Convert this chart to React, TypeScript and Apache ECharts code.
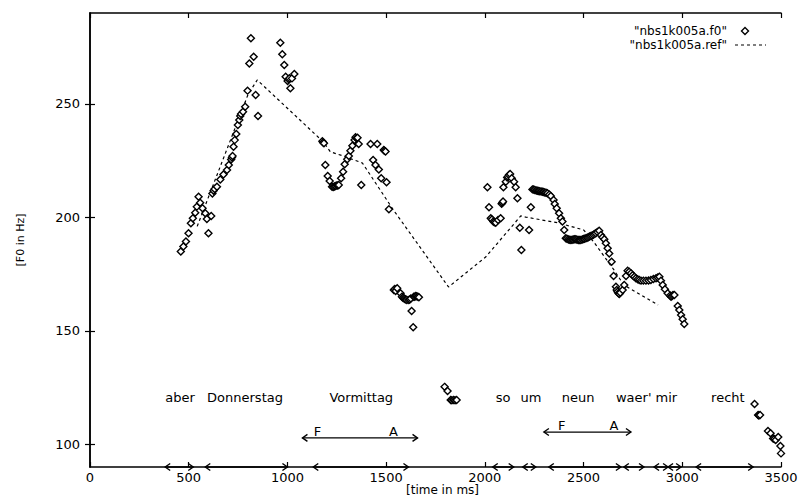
import React, { useEffect, useRef } from "react";
import * as echarts from "echarts";

const f0First: number[][] = [
  [460, 184.9], [473, 187.1], [486, 189.3], [499, 193.0], [511, 197.4], [521, 199.6], [533, 202.0],
  [541, 204.7], [550, 209.1], [558, 206.4], [570, 204.0], [584, 201.8], [592, 199.3], [600, 193.0],
  [614, 200.6], [620, 210.5], [626, 211.7], [631, 212.5], [643, 213.5], [660, 216.7], [676, 218.9],
  [694, 220.8], [703, 223.0], [715, 225.5], [719, 226.3], [722, 227.0], [727, 231.1], [733, 234.0],
  [741, 236.7], [749, 240.7], [756, 242.9], [761, 244.6], [765, 245.5], [775, 246.5], [786, 248.7],
  [798, 255.8], [807, 267.8], [815, 278.9], [829, 270.7], [839, 253.9], [851, 244.6], [964, 276.9],
  [974, 271.8], [984, 267.1], [991, 261.9], [1001, 260.0], [1006, 260.8], [1010, 261.3], [1015, 256.8],
  [1023, 261.2], [1035, 263.1],
];
const f0Second: number[][] = [
  [1177, 233.5], [1181, 233.0], [1185, 232.6], [1192, 223.0], [1204, 218.2], [1214, 216.0], [1226, 213.5],
  [1232, 213.3], [1238, 213.6], [1243, 213.8], [1250, 214.0], [1255, 214.0], [1260, 214.2], [1272, 217.2],
  [1282, 220.1], [1290, 223.4], [1303, 225.6], [1311, 227.0], [1319, 229.3], [1329, 231.5], [1340, 234.1],
  [1345, 235.3], [1350, 234.8], [1355, 235.0], [1361, 232.3], [1374, 214.2], [1421, 232.3], [1434, 225.2],
  [1446, 223.0], [1455, 232.3], [1463, 221.1], [1475, 217.2], [1488, 229.6], [1492, 229.3], [1497, 229.0],
  [1502, 215.4], [1514, 203.5], [1539, 168.0], [1544, 168.4], [1548, 167.5], [1556, 168.7], [1573, 166.5],
  [1580, 165.0], [1585, 164.6], [1590, 164.3], [1595, 164.0], [1600, 163.8], [1605, 163.6], [1615, 163.6],
  [1620, 163.8], [1625, 164.2], [1629, 158.7], [1637, 151.6], [1640, 165.0], [1645, 165.0], [1650, 165.3],
  [1655, 165.2], [1661, 165.0], [1666, 164.8], [1796, 125.3], [1811, 123.5], [1827, 119.5], [1833, 119.4],
  [1842, 119.5], [1849, 119.4], [1857, 119.5],
];
const f0Third: number[][] = [
  [2013, 213.2], [2021, 204.4], [2030, 199.6], [2036, 199.0], [2043, 198.1], [2048, 197.8], [2055, 197.6],
  [2067, 198.8], [2080, 199.6], [2085, 206.0], [2089, 206.4], [2092, 207.0], [2094, 213.2], [2106, 215.7],
  [2113, 217.5], [2117, 217.9], [2122, 218.6], [2128, 219.1], [2136, 217.2], [2148, 215.7], [2156, 213.2],
  [2165, 208.4], [2177, 195.4], [2185, 185.6], [2224, 194.4], [2233, 204.4], [2241, 212.3], [2247, 212.2],
  [2253, 212.0], [2260, 211.8], [2266, 211.7], [2272, 211.6], [2278, 211.5], [2285, 211.4], [2292, 211.3],
  [2298, 211.1], [2304, 210.9], [2310, 210.8], [2317, 210.6], [2326, 210.0], [2334, 209.4], [2348, 207.6],
  [2354, 205.9], [2364, 204.0], [2376, 201.8], [2385, 199.6], [2393, 198.1], [2402, 194.4], [2410, 190.8],
  [2416, 190.5], [2423, 190.2], [2430, 190.1], [2436, 190.0], [2442, 190.1], [2448, 190.2], [2455, 190.3],
  [2461, 190.3], [2467, 190.1], [2474, 190.0], [2480, 190.0], [2486, 190.0], [2493, 190.2], [2499, 190.4],
  [2505, 190.6], [2512, 190.8], [2518, 191.0], [2524, 191.2], [2530, 191.5], [2537, 191.8], [2543, 192.0],
  [2550, 192.3], [2556, 192.7], [2562, 193.0], [2570, 193.5], [2579, 194.1], [2588, 192.2], [2596, 191.2],
  [2605, 190.3], [2613, 188.6], [2622, 186.4], [2630, 184.1], [2642, 180.4], [2652, 174.1], [2664, 169.4],
  [2668, 168.0], [2672, 167.2], [2677, 166.5], [2681, 166.2], [2686, 166.8], [2698, 168.0], [2706, 170.2],
  [2715, 174.1], [2723, 176.5], [2731, 176.0], [2740, 175.3], [2748, 174.5], [2757, 173.8], [2765, 173.2],
  [2774, 172.7], [2782, 172.4], [2791, 172.1], [2803, 172.1], [2816, 172.1], [2829, 172.2], [2841, 172.4],
  [2854, 172.8], [2867, 173.1], [2876, 173.5], [2884, 173.8], [2892, 172.1], [2901, 170.2], [2912, 168.3],
  [2926, 166.5], [2938, 165.5], [2943, 165.0], [2948, 165.3], [2953, 165.8], [2960, 165.8], [2977, 160.9],
  [2985, 159.2], [2994, 157.0], [3002, 155.1], [3010, 153.0],
];
const f0Last: number[][] = [
  [3366, 117.8], [3384, 112.9], [3388, 112.7], [3394, 112.9], [3434, 105.9], [3447, 104.9], [3460, 102.6],
  [3466, 102.3], [3473, 101.9], [3486, 103.2], [3497, 99.3], [3500, 96.0],
];

// reference contour vertices
const refMs = [543, 800, 847, 1182, 1218, 1284, 1380, 1537, 1816, 2004, 2182, 2207, 2374, 2501, 2552, 2654, 2704, 2877];
const refHz = [196.0, 254.0, 260.5, 233.2, 228.8, 227.0, 223.9, 203.2, 169.3, 182.5, 200.6, 200.1, 197.5, 194.4, 189.1, 176.8, 170.2, 161.4];

// axis ticks
const xTicks = [0, 500, 1000, 1500, 2000, 2500, 3000, 3500];
const yTicks = [100, 150, 200, 250];

// words of the utterance
const words = ["aber", "Donnerstag", "Vormittag", "so", "um", "neun", "waer' mir", "recht"];
const wordMs = [381, 593, 1213, 2055, 2180, 2390, 2664, 3146];
const wordHz = [120.4, 120.4, 120.4, 120.4, 120.4, 120.4, 120.4, 120.4];

// segment intervals on the time axis
const segStart = [381, 584, 1131, 2040, 2192, 2324, 2704, 2857, 2928, 3070];
const segEnd = [523, 1000, 1613, 2146, 2258, 2689, 2806, 2928, 2994, 3359];

// F..A intervals
const faStart = [1076, 2299];
const faEnd = [1659, 2740];
const faHz = [102.8, 105.4];
const fMs = [1152, 2390];
const aMs = [1537, 2654];

// legend entries
const legendNames = ['"nbs1k005a.f0"', '"nbs1k005a.ref"'];

const FONT = '"DejaVu Sans", "Liberation Sans", sans-serif';

function arrowChildren(x1: number, x2: number, y: number, lw: number) {
  const w = 5;
  const h = 3.5;
  const st = { stroke: "#000", fill: "none", lineWidth: 1.4 };
  return [
    { type: "line", shape: { x1, y1: y, x2, y2: y }, style: { stroke: "#000", lineWidth: lw } },
    { type: "polyline", shape: { points: [[x1 + w, y - h], [x1, y], [x1 + w, y + h]] }, style: st },
    { type: "polyline", shape: { points: [[x2 - w, y - h], [x2, y], [x2 - w, y + h]] }, style: st },
  ];
}

export default function App() {
  const ref = useRef<HTMLDivElement>(null);

  useEffect(() => {
    document.body.style.margin = "0";
    if (!ref.current) return;
    const chart = echarts.init(ref.current, null, { renderer: "svg" });

    const f0Data = [...f0First, ...f0Second, ...f0Third, ...f0Last];
    const refData = refMs.map((m, i) => [m, refHz[i]]);

    const axisLine = { show: true, lineStyle: { color: "#000", width: 1.5 } };
    const tickStyle = { color: "#000", width: 1.2 };

    // legend block (top right)
    const lgTextX = 727;
    const lgY0 = 31;
    const lgDy = 14;
    const legendGraphic = [
      {
        type: "text", x: lgTextX, y: lgY0,
        style: { text: legendNames[0], fill: "#000", font: `12px ${FONT}`, align: "right", verticalAlign: "middle" },
      },
      {
        type: "polygon",
        shape: { points: [[745, lgY0 - 3.5], [748.5, lgY0], [745, lgY0 + 3.5], [741.5, lgY0]] },
        style: { fill: "#fff", stroke: "#000", lineWidth: 1.4 },
      },
      {
        type: "text", x: lgTextX, y: lgY0 + lgDy,
        style: { text: legendNames[1], fill: "#000", font: `12px ${FONT}`, align: "right", verticalAlign: "middle" },
      },
      {
        type: "line",
        shape: { x1: 735, y1: lgY0 + lgDy, x2: 766, y2: lgY0 + lgDy },
        style: { stroke: "#000", lineWidth: 1.2, lineDash: [3, 3] },
      },
    ];

    chart.setOption({
      animation: false,
      backgroundColor: "#fff",
      grid: { left: 90, right: 17, top: 13, bottom: 30, outerBoundsMode: "none", containLabel: false },
      graphic: legendGraphic,
      xAxis: [
        {
          type: "value",
          min: 0,
          max: 3500,
          interval: 500,
          name: "[time in ms]",
          nameLocation: "middle",
          nameGap: 17,
          nameMoveOverlap: false,
          nameTextStyle: {
            fontFamily: FONT, fontSize: 12, lineHeight: 12, color: "#000", padding: [0, 0, 0, 14],
          },
          axisLine,
          axisTick: { show: true, inside: true, length: 5, customValues: xTicks, lineStyle: tickStyle },
          axisLabel: {
            fontFamily: FONT, fontSize: 13, lineHeight: 12, color: "#000", margin: 4,
            customValues: xTicks, formatter: (v: number) => String(v),
          },
          splitLine: { show: false },
        },
        {
          type: "value",
          position: "top",
          min: 0,
          max: 3500,
          interval: 500,
          axisLine,
          axisTick: { show: true, inside: true, length: 5, customValues: xTicks, lineStyle: tickStyle },
          axisLabel: { show: false },
          splitLine: { show: false },
        },
      ],
      yAxis: [
        {
          type: "value",
          min: 90,
          max: 290,
          name: "[F0 in Hz]",
          nameLocation: "middle",
          nameGap: 64,
          nameRotate: 90,
          nameMoveOverlap: false,
          nameTextStyle: { fontFamily: FONT, fontSize: 11, color: "#000" },
          axisLine,
          axisTick: { show: true, inside: true, length: 5, customValues: yTicks, lineStyle: tickStyle },
          axisLabel: {
            fontFamily: FONT, fontSize: 13, color: "#000", margin: 10,
            customValues: yTicks, formatter: (v: number) => String(v),
          },
          splitLine: { show: false },
        },
        {
          type: "value",
          position: "right",
          min: 90,
          max: 290,
          axisLine,
          axisTick: { show: true, inside: true, length: 5, customValues: yTicks, lineStyle: tickStyle },
          axisLabel: { show: false },
          splitLine: { show: false },
        },
      ],
      series: [
        {
          name: legendNames[1],
          type: "line",
          data: refData,
          symbol: "none",
          showSymbol: false,
          itemStyle: { color: "#000" },
          lineStyle: { color: "#000", width: 1.2, type: [3, 3] },
          z: 2,
        },
        {
          name: legendNames[0],
          type: "scatter",
          data: f0Data,
          symbol: "diamond",
          symbolSize: 7,
          itemStyle: { color: "#fff", borderColor: "#000", borderWidth: 1.4, opacity: 1 },
          z: 3,
        },
        {
          name: "segments",
          type: "custom",
          silent: true,
          data: segStart.map((s, i) => [s, segEnd[i], 90]),
          encode: { x: [0, 1], y: 2 },
          renderItem: (_p: any, api: any) => {
            const p1 = api.coord([api.value(0), api.value(2)]);
            const p2 = api.coord([api.value(1), api.value(2)]);
            return { type: "group", children: arrowChildren(p1[0], p2[0], p1[1], 1.5) };
          },
          z: 4,
        },
        {
          name: "fa",
          type: "custom",
          silent: true,
          data: faStart.map((s, i) => [s, faEnd[i], faHz[i]]),
          encode: { x: [0, 1], y: 2 },
          renderItem: (params: any, api: any) => {
            const i = params.dataIndex;
            const p1 = api.coord([api.value(0), api.value(2)]);
            const p2 = api.coord([api.value(1), api.value(2)]);
            const pf = api.coord([fMs[i], faHz[i]]);
            const pa = api.coord([aMs[i], faHz[i]]);
            const ts = { fill: "#000", font: `13px ${FONT}`, align: "center", verticalAlign: "bottom" };
            return {
              type: "group",
              children: [
                ...arrowChildren(p1[0], p2[0], p1[1], 1.2),
                { type: "text", x: pf[0], y: pf[1], style: { ...ts, text: "F" } },
                { type: "text", x: pa[0], y: pa[1], style: { ...ts, text: "A" } },
              ],
            };
          },
          z: 4,
        },
        {
          name: "words",
          type: "custom",
          silent: true,
          data: wordMs.map((m, i) => [m, wordHz[i]]),
          renderItem: (params: any, api: any) => {
            const p = api.coord([api.value(0), api.value(1)]);
            return {
              type: "text",
              x: p[0],
              y: p[1],
              style: {
                text: words[params.dataIndex],
                fill: "#000",
                font: `13px ${FONT}`,
                align: "left",
                verticalAlign: "middle",
              },
            };
          },
          z: 4,
        },
      ],
    });

    return () => chart.dispose();
  }, []);

  return <div ref={ref} style={{ width: 798, height: 497 }} />;
}
